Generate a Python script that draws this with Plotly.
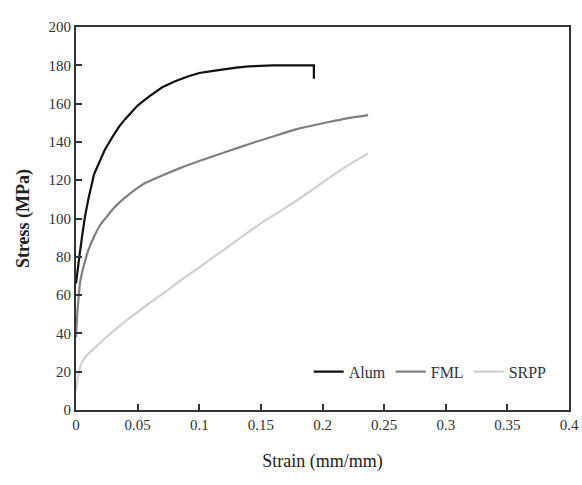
import plotly.graph_objects as go

alum_strain = [0, 0.001, 0.0027, 0.005, 0.0073, 0.01, 0.0146, 0.02, 0.0235, 0.03, 0.035, 0.04, 0.045, 0.05, 0.055, 0.06, 0.07, 0.08, 0.09, 0.1, 0.11, 0.12, 0.13, 0.14, 0.15, 0.16, 0.17, 0.18, 0.193, 0.193]
alum_stress = [66, 72, 80, 91, 101, 110, 123, 131, 136, 143, 148, 152, 155.5, 159, 161.5, 164, 168.5, 171.5, 174, 176, 177, 178, 178.8, 179.4, 179.8, 180, 180, 180, 180, 173]

fml_strain = [0, 0.001, 0.002, 0.0032, 0.005, 0.0075, 0.01, 0.015, 0.02, 0.025, 0.03, 0.04, 0.05, 0.056, 0.07, 0.0844, 0.1, 0.125, 0.14, 0.1656, 0.18, 0.206, 0.22, 0.237]
fml_stress = [38, 50, 58, 66, 72, 78, 83.5, 91, 97, 101, 105, 111, 116, 118.5, 122.5, 126.3, 130, 135.5, 138.8, 144, 146.8, 150.5, 152.3, 154]

srpp_strain = [0, 0.001, 0.0025, 0.0046, 0.008, 0.0195, 0.03, 0.045, 0.06, 0.071, 0.0844, 0.1, 0.125, 0.15, 0.166, 0.185, 0.206, 0.22, 0.237]
srpp_stress = [10, 15, 20, 24.5, 28, 35, 41, 48.7, 56, 61, 67.5, 74.5, 86, 97.5, 104, 112, 121.5, 127.5, 134]

series_names = ["Alum", "FML", "SRPP"]
x_ticks = [0, 0.05, 0.1, 0.15, 0.2, 0.25, 0.3, 0.35, 0.4]
x_tick_labels = ["0", "0.05", "0.1", "0.15", "0.2", "0.25", "0.3", "0.35", "0.4"]
y_ticks = [0, 20, 40, 60, 80, 100, 120, 140, 160, 180, 200]

serif = "Liberation Serif, Times New Roman, serif"

fig = go.Figure()
fig.add_trace(go.Scatter(x=alum_strain, y=alum_stress, mode="lines", name=series_names[0],
                         line=dict(color="#111111", width=2.2)))
fig.add_trace(go.Scatter(x=fml_strain, y=fml_stress, mode="lines", name=series_names[1],
                         line=dict(color="#808080", width=2.2, shape="spline", smoothing=0.6)))
fig.add_trace(go.Scatter(x=srpp_strain, y=srpp_stress, mode="lines", name=series_names[2],
                         line=dict(color="#d0d0d0", width=2.2, shape="spline", smoothing=0.6)))

fig.update_layout(
    width=582, height=485,
    margin=dict(l=76, r=13, t=27, b=75),
    paper_bgcolor="white", plot_bgcolor="white",
    font=dict(family=serif, size=15, color="#333333"),
    legend=dict(orientation="h", x=0.965, xanchor="right", y=0.1, yanchor="middle",
                bgcolor="rgba(0,0,0,0)", font=dict(size=16, color="#333333"),
                itemwidth=30, tracegroupgap=0),
    showlegend=True,
)
fig.update_xaxes(
    range=[0, 0.4], tickvals=x_ticks, ticktext=x_tick_labels,
    showgrid=False, zeroline=False, automargin=False, ticklabeloverflow="allow",
    showline=True, linecolor="#333333", linewidth=2, mirror=True,
    ticks="inside", ticklen=6, tickwidth=1.5, tickcolor="#333333",
    title=dict(text="Strain (mm/mm)", font=dict(size=18, color="#222222"), standoff=22),
)
fig.update_yaxes(
    range=[0, 200], tickvals=y_ticks,
    showgrid=False, zeroline=False, automargin=False,
    showline=True, linecolor="#333333", linewidth=2, mirror=True,
    ticks="inside", ticklen=6, tickwidth=1.5, tickcolor="#333333",
    title=dict(text="<b>Stress (MPa)</b>", font=dict(size=18, color="#222222"), standoff=14),
)

fig.write_html("out.html", config={"displayModeBar": False},
               post_script="document.body.style.margin='0px';document.body.style.overflow='hidden';")
